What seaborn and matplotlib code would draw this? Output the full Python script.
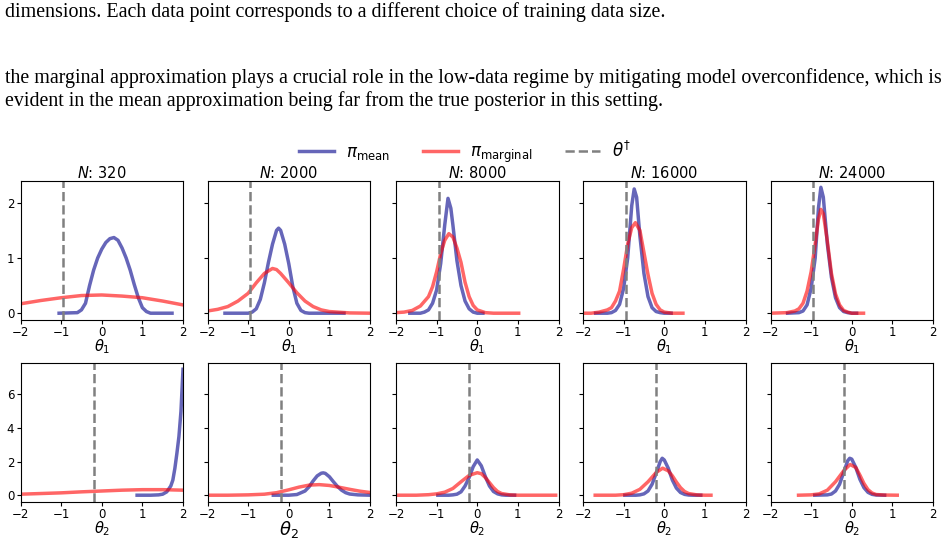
import matplotlib
matplotlib.use("Agg")
import matplotlib.pyplot as plt
import seaborn as sns
from matplotlib.lines import Line2D

# training sizes (one column each)
sizes = [320, 2000, 8000, 16000, 24000]
theta_true = [-0.95, -0.2]   # theta1, theta2

# ---- theta_1 densities (top row) ----
mean_t1_320_x = [-1.05, -0.6, -0.5, -0.4, -0.3, -0.2, -0.1, 0.0, 0.1, 0.2, 0.3, 0.4, 0.5, 0.6, 0.7, 0.8, 0.9, 1.0, 1.1, 1.2, 1.73]
mean_t1_320_y = [0.0, 0.01, 0.06, 0.18, 0.5, 0.78, 1.0, 1.16, 1.28, 1.35, 1.37, 1.32, 1.18, 1.0, 0.78, 0.52, 0.28, 0.1, 0.03, 0.0, 0.0]
marg_t1_320_x = [-2.0, -1.5, -1.0, -0.5, 0.0, 0.5, 1.0, 1.5, 2.0]
marg_t1_320_y = [0.17, 0.23, 0.28, 0.32, 0.33, 0.31, 0.28, 0.22, 0.15]

mean_t1_2000_x = [-1.57, -1.0, -0.9, -0.8, -0.7, -0.6, -0.5, -0.4, -0.3, -0.25, -0.2, -0.1, 0.0, 0.1, 0.2, 0.3, 0.4, 0.5, 1.36]
mean_t1_2000_y = [0.0, 0.0, 0.02, 0.08, 0.25, 0.55, 0.92, 1.25, 1.5, 1.54, 1.5, 1.25, 0.9, 0.48, 0.18, 0.05, 0.01, 0.0, 0.0]
marg_t1_2000_x = [-2.0, -1.75, -1.5, -1.25, -1.0, -0.8, -0.6, -0.4, -0.3, -0.2, 0.0, 0.2, 0.4, 0.6, 0.8, 1.0, 1.5, 2.0]
marg_t1_2000_y = [0.04, 0.07, 0.12, 0.22, 0.36, 0.55, 0.72, 0.81, 0.79, 0.72, 0.55, 0.37, 0.22, 0.12, 0.06, 0.03, 0.005, 0.0]

mean_t1_8000_x = [-1.66, -1.4, -1.3, -1.2, -1.1, -1.0, -0.9, -0.8, -0.72, -0.65, -0.6, -0.5, -0.4, -0.3, -0.2, -0.1, 0.0, 0.14]
mean_t1_8000_y = [0.0, 0.0, 0.02, 0.06, 0.18, 0.42, 0.9, 1.6, 2.08, 1.9, 1.6, 0.95, 0.5, 0.22, 0.08, 0.02, 0.0, 0.0]
marg_t1_8000_x = [-2.0, -1.8, -1.6, -1.4, -1.2, -1.1, -1.0, -0.9, -0.8, -0.7, -0.6, -0.5, -0.4, -0.3, -0.2, -0.1, 0.0, 0.2, 0.4, 1.02]
marg_t1_8000_y = [0.01, 0.02, 0.05, 0.13, 0.3, 0.48, 0.75, 1.08, 1.32, 1.44, 1.38, 1.18, 0.92, 0.56, 0.3, 0.14, 0.06, 0.01, 0.0, 0.0]

mean_t1_16000_x = [-1.69, -1.4, -1.3, -1.2, -1.1, -1.0, -0.9, -0.8, -0.74, -0.68, -0.6, -0.5, -0.4, -0.3, -0.2, -0.1, 0.0, 0.17]
mean_t1_16000_y = [0.0, 0.0, 0.01, 0.05, 0.16, 0.45, 1.0, 1.95, 2.25, 2.1, 1.4, 0.72, 0.3, 0.1, 0.03, 0.01, 0.0, 0.0]
marg_t1_16000_x = [-2.0, -1.8, -1.6, -1.4, -1.3, -1.2, -1.1, -1.0, -0.9, -0.8, -0.71, -0.6, -0.5, -0.4, -0.3, -0.2, -0.1, 0.0, 0.2, 0.46]
marg_t1_16000_y = [0.0, 0.0, 0.02, 0.06, 0.1, 0.22, 0.4, 0.8, 1.25, 1.55, 1.64, 1.5, 1.1, 0.7, 0.36, 0.16, 0.06, 0.02, 0.0, 0.0]

mean_t1_24000_x = [-1.58, -1.3, -1.2, -1.1, -1.0, -0.9, -0.82, -0.76, -0.7, -0.6, -0.5, -0.4, -0.3, -0.2, -0.1, 0.0, 0.12]
mean_t1_24000_y = [0.0, 0.01, 0.04, 0.15, 0.45, 1.0, 1.9, 2.28, 2.1, 1.25, 0.65, 0.28, 0.1, 0.03, 0.01, 0.0, 0.0]
marg_t1_24000_x = [-2.0, -1.6, -1.4, -1.3, -1.2, -1.1, -1.0, -0.9, -0.82, -0.76, -0.7, -0.6, -0.5, -0.4, -0.3, -0.2, -0.1, 0.0, 0.29]
marg_t1_24000_y = [0.0, 0.01, 0.04, 0.08, 0.18, 0.4, 0.75, 1.25, 1.7, 1.88, 1.8, 1.3, 0.72, 0.35, 0.15, 0.05, 0.02, 0.0, 0.0]

# ---- theta_2 densities (bottom row) ----
mean_t2_320_x = [0.87, 1.2, 1.4, 1.5, 1.6, 1.7, 1.75, 1.8, 1.85, 1.9, 1.95, 2.0]
mean_t2_320_y = [0.0, 0.0, 0.02, 0.06, 0.2, 0.55, 0.9, 1.6, 2.5, 3.5, 5.0, 7.5]
marg_t2_320_x = [-2.0, -1.5, -1.0, -0.5, 0.0, 0.5, 1.0, 1.5, 2.0]
marg_t2_320_y = [0.06, 0.1, 0.14, 0.2, 0.25, 0.3, 0.33, 0.33, 0.3]

mean_t2_2000_x = [-0.38, 0.0, 0.2, 0.4, 0.5, 0.6, 0.7, 0.8, 0.85, 0.9, 1.0, 1.1, 1.2, 1.3, 1.4, 1.5, 1.7, 2.0]
mean_t2_2000_y = [0.0, 0.0, 0.04, 0.25, 0.5, 0.85, 1.15, 1.31, 1.33, 1.3, 1.1, 0.8, 0.52, 0.3, 0.15, 0.07, 0.02, 0.0]
marg_t2_2000_x = [-2.0, -1.5, -1.0, -0.6, -0.3, 0.0, 0.25, 0.5, 0.75, 1.0, 1.25, 1.5, 1.75, 2.0]
marg_t2_2000_y = [0.0, 0.0, 0.02, 0.06, 0.15, 0.32, 0.48, 0.6, 0.63, 0.58, 0.47, 0.35, 0.24, 0.16]

mean_t2_8000_x = [-0.97, -0.7, -0.6, -0.5, -0.4, -0.3, -0.2, -0.1, 0.0, 0.1, 0.2, 0.3, 0.4, 0.5, 0.6, 0.7, 0.92]
mean_t2_8000_y = [0.0, 0.0, 0.02, 0.06, 0.2, 0.55, 1.05, 1.7, 2.1, 1.75, 1.1, 0.55, 0.22, 0.08, 0.02, 0.0, 0.0]
marg_t2_8000_x = [-2.0, -1.5, -1.2, -1.0, -0.8, -0.6, -0.4, -0.2, 0.0, 0.1, 0.2, 0.3, 0.4, 0.5, 0.6, 0.8, 1.0, 1.93]
marg_t2_8000_y = [0.0, 0.0, 0.03, 0.08, 0.18, 0.4, 0.8, 1.18, 1.34, 1.28, 1.05, 0.75, 0.45, 0.22, 0.1, 0.02, 0.0, 0.0]

mean_t2_16000_x = [-0.97, -0.7, -0.6, -0.5, -0.4, -0.3, -0.2, -0.1, -0.05, 0.0, 0.1, 0.2, 0.3, 0.4, 0.5, 0.6, 0.7, 0.9]
mean_t2_16000_y = [0.0, 0.0, 0.02, 0.08, 0.25, 0.65, 1.3, 2.0, 2.2, 2.1, 1.6, 0.9, 0.42, 0.16, 0.05, 0.01, 0.0, 0.0]
marg_t2_16000_x = [-1.7, -1.2, -1.0, -0.8, -0.6, -0.4, -0.2, -0.04, 0.1, 0.2, 0.3, 0.4, 0.5, 0.6, 0.8, 1.0, 1.15]
marg_t2_16000_y = [0.0, 0.0, 0.03, 0.12, 0.35, 0.8, 1.35, 1.61, 1.45, 1.15, 0.78, 0.45, 0.22, 0.1, 0.02, 0.0, 0.0]

mean_t2_24000_x = [-0.91, -0.6, -0.5, -0.4, -0.3, -0.2, -0.1, -0.05, 0.0, 0.1, 0.2, 0.3, 0.4, 0.5, 0.6, 0.81]
mean_t2_24000_y = [0.0, 0.02, 0.07, 0.25, 0.65, 1.35, 2.05, 2.2, 2.15, 1.65, 0.95, 0.45, 0.17, 0.05, 0.01, 0.0]
marg_t2_24000_x = [-1.31, -1.0, -0.8, -0.6, -0.4, -0.2, -0.04, 0.1, 0.2, 0.3, 0.4, 0.5, 0.6, 0.8, 1.12]
marg_t2_24000_y = [0.0, 0.02, 0.08, 0.3, 0.8, 1.45, 1.83, 1.65, 1.2, 0.7, 0.33, 0.13, 0.04, 0.01, 0.0]

mean_curves = [
    [(mean_t1_320_x, mean_t1_320_y), (mean_t1_2000_x, mean_t1_2000_y), (mean_t1_8000_x, mean_t1_8000_y),
     (mean_t1_16000_x, mean_t1_16000_y), (mean_t1_24000_x, mean_t1_24000_y)],
    [(mean_t2_320_x, mean_t2_320_y), (mean_t2_2000_x, mean_t2_2000_y), (mean_t2_8000_x, mean_t2_8000_y),
     (mean_t2_16000_x, mean_t2_16000_y), (mean_t2_24000_x, mean_t2_24000_y)],
]
marg_curves = [
    [(marg_t1_320_x, marg_t1_320_y), (marg_t1_2000_x, marg_t1_2000_y), (marg_t1_8000_x, marg_t1_8000_y),
     (marg_t1_16000_x, marg_t1_16000_y), (marg_t1_24000_x, marg_t1_24000_y)],
    [(marg_t2_320_x, marg_t2_320_y), (marg_t2_2000_x, marg_t2_2000_y), (marg_t2_8000_x, marg_t2_8000_y),
     (marg_t2_16000_x, marg_t2_16000_y), (marg_t2_24000_x, marg_t2_24000_y)],
]

W, H = 948, 540
fig = plt.figure(figsize=(W / 100, H / 100), dpi=100)

# surrounding paper text
serif = "Liberation Serif"
fig.text(5 / W, 1 - 12 / H, "dimensions. Each data point corresponds to a different choice of training data size.",
         family=serif, fontsize=14.4, va="center", ha="left")
fig.text(5 / W, 1 - 78 / H, "the marginal approximation plays a crucial role in the low-data regime by mitigating "
         "model overconfidence, which is", family=serif, fontsize=14.4, va="center", ha="left")
fig.text(5 / W, 1 - 101 / H, "evident in the mean approximation being far from the true posterior in this setting.",
         family=serif, fontsize=14.4, va="center", ha="left")

lefts = [20.5, 207.5, 396, 583, 770.5]
tops = [181, 363]
aw, ah = 162.5, 138.5

for r in range(2):
    first = None
    for c in range(5):
        ax = fig.add_axes([lefts[c] / W, 1 - (tops[r] + ah) / H, aw / W, ah / H],
                          sharey=first)
        if first is None:
            first = ax
        mx, my = mean_curves[r][c]
        rx, ry = marg_curves[r][c]
        sns.lineplot(x=mx, y=my, ax=ax, color="darkblue", alpha=0.6, lw=2.5, sort=False)
        sns.lineplot(x=rx, y=ry, ax=ax, color="red", alpha=0.6, lw=2.5, sort=False)
        ax.axvline(theta_true[r], color="gray", ls="--", lw=1.8)
        ax.set_xlim(-2, 2)
        ax.set_xticks([-2, -1, 0, 1, 2])
        ax.tick_params(labelsize=8.5, length=3, pad=1.5)
        lab_size = 13 if (r == 1 and c == 1) else 10.5
        ax.set_xlabel(r"$\theta_%d$" % (r + 1), fontsize=lab_size, labelpad=-1)
        ax.set_ylabel("")
        if c > 0:
            ax.tick_params(labelleft=False)
        if r == 0:
            ax.set_title(r"$N$: %d" % sizes[c], fontsize=10.5, pad=2)
    if r == 0:
        first.set_yticks([0, 1, 2])
    else:
        first.set_yticks([0, 2, 4, 6])

handles = [
    Line2D([], [], color="darkblue", alpha=0.6, lw=2.5),
    Line2D([], [], color="red", alpha=0.6, lw=2.5),
    Line2D([], [], color="gray", ls="--", lw=1.8),
]
labels = [r"$\pi_{\mathrm{mean}}$", r"$\pi_{\mathrm{marginal}}$", r"$\theta^{\dagger}$"]
fig.legend(handles, labels, loc="center", bbox_to_anchor=(465 / W, 1 - 153 / H), ncol=3,
           frameon=False, fontsize=12, handlelength=2.1, columnspacing=2.0, handletextpad=0.7)

fig.savefig("out.png", dpi=100)
